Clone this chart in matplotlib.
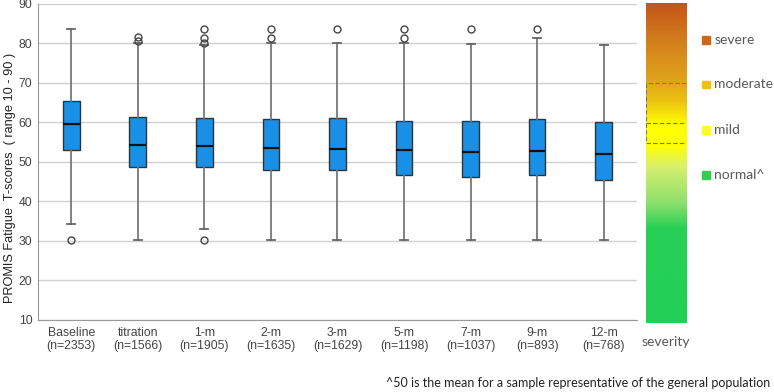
import numpy as np
import matplotlib
matplotlib.use("Agg")
import matplotlib.pyplot as plt
from matplotlib.colors import LinearSegmentedColormap
from matplotlib.patches import Rectangle

# box statistics
groups = ["Baseline", "titration", "1-m", "2-m", "3-m", "5-m", "7-m", "9-m", "12-m"]
counts = [2353, 1566, 1905, 1635, 1629, 1198, 1037, 893, 768]
med = [59.5, 54.3, 54.1, 53.5, 53.2, 53.0, 52.4, 52.7, 52.0]
q1 = [52.9, 48.6, 48.7, 47.9, 47.9, 46.8, 46.3, 46.7, 45.3]
q3 = [65.5, 61.3, 61.0, 60.9, 61.2, 60.4, 60.4, 60.9, 60.0]
whislo = [34.4, 30.1, 33.1, 30.1, 30.1, 30.1, 30.1, 30.1, 30.1]
whishi = [83.6, 80.0, 79.5, 80.0, 80.0, 80.0, 79.9, 81.4, 79.7]
fliers = [[30.2], [80.7, 81.5], [30.2, 80.0, 81.4, 83.6], [81.4, 83.6],
          [83.6], [81.4, 83.6], [83.6], [83.6], []]

# severity scale
sev_vals = [10, 33.5, 40, 49, 54.5, 59.7, 65.6, 70.6, 80.8, 90]
sev_cols = ["#22d055", "#27d055", "#8cdf6c", "#d8f070", "#ffff00", "#ffff00",
            "#ecc312", "#e0a51a", "#d27f1c", "#c55518"]
sev_box = (55, 70)
sev_cut = 60
sev_labels = ["severe", "moderate", "mild", "normal^"]
sev_label_y = [80.9, 69.6, 58.1, 46.6]
sev_label_cols = ["#cc6a1b", "#f0c010", "#ffff20", "#2fd050"]

fig = plt.figure(figsize=(7.74, 3.92), dpi=100)
ax = fig.add_axes([0.049, 0.184, 0.774, 0.806])

stats = []
for i in range(len(groups)):
    stats.append(dict(med=med[i], q1=q1[i], q3=q3[i], whislo=whislo[i],
                      whishi=whishi[i], fliers=fliers[i]))
ax.bxp(stats, positions=range(len(groups)), widths=0.25, patch_artist=True,
       boxprops=dict(facecolor="#1a8fe6", edgecolor="#333333", lw=1.0),
       medianprops=dict(color="#111111", lw=1.6),
       whiskerprops=dict(color="#777777", lw=1.3),
       capprops=dict(color="#666666", lw=1.3), capwidths=0.12,
       flierprops=dict(marker="o", markersize=5, markerfacecolor="none",
                       markeredgecolor="#444444", markeredgewidth=1.0),
       zorder=3)

ax.set_xlim(-0.5, len(groups) - 0.5)
ax.set_ylim(10, 90)
ax.set_yticks(range(10, 91, 10))
ax.set_xticks(range(len(groups)))
ax.set_xticklabels([f"{g}\n(n={n})" for g, n in zip(groups, counts)],
                   fontsize=8.8, color="#444444", linespacing=1.1,
                   family="Liberation Sans")
ax.tick_params(axis="y", labelsize=8.8, labelcolor="#444444", length=0, pad=4)
ax.tick_params(axis="x", length=0, pad=5)
for lab in ax.get_yticklabels():
    lab.set_family("Liberation Sans")
ax.grid(axis="y", color="#d0d0d0", lw=1.0, zorder=0)
for s in ["top", "right"]:
    ax.spines[s].set_visible(False)
for s in ["left", "bottom"]:
    ax.spines[s].set_color("#999999")
ax.set_ylabel("PROMIS Fatigue  T-scores  ( range 10 - 90 )", fontsize=9.2,
              color="#222222", family="Liberation Sans", va="center")
ax.yaxis.set_label_coords(-0.046, 0.45)

# severity bar
cax = fig.add_axes([0.8346, 0.176, 0.0517, 0.816])
pos = [(v - 10) / 80 for v in sev_vals]
cmap = LinearSegmentedColormap.from_list("sev", list(zip(pos, sev_cols)))
grad = np.linspace(10, 90, 400).reshape(-1, 1)
cax.imshow(grad, cmap=cmap, vmin=10, vmax=90, origin="lower",
           extent=[0, 1, 10, 90], aspect="auto")
cax.add_patch(Rectangle((0, sev_box[0]), 1, sev_box[1] - sev_box[0], fill=False,
                        ls=(0, (4, 2)), ec="#777777", lw=0.8))
cax.plot([0, 1], [sev_cut, sev_cut], ls=(0, (4, 2)), color="#777777", lw=0.8)
cax.set_xlim(0, 1)
cax.set_ylim(10, 90)
cax.axis("off")

fig.text(0.8605, 0.127, "severity", ha="center", va="center", fontsize=10,
         color="#595959", family="Lato")

for lab, y, c in zip(sev_labels, sev_label_y, sev_label_cols):
    yf = 0.184 + (y - 10) / 80 * 0.806
    fig.add_artist(Rectangle((0.907, yf - 0.01), 0.0105, 0.02, color=c,
                             transform=fig.transFigure))
    fig.text(0.923, yf, lab, ha="left", va="center", fontsize=10,
             color="#595959", family="Lato")

fig.text(0.995, 0.022, "^50 is the mean for a sample representative of the general population",
         ha="right", va="center", fontsize=9, color="#222222", family="Lato")

fig.savefig("out.png", dpi=100)
